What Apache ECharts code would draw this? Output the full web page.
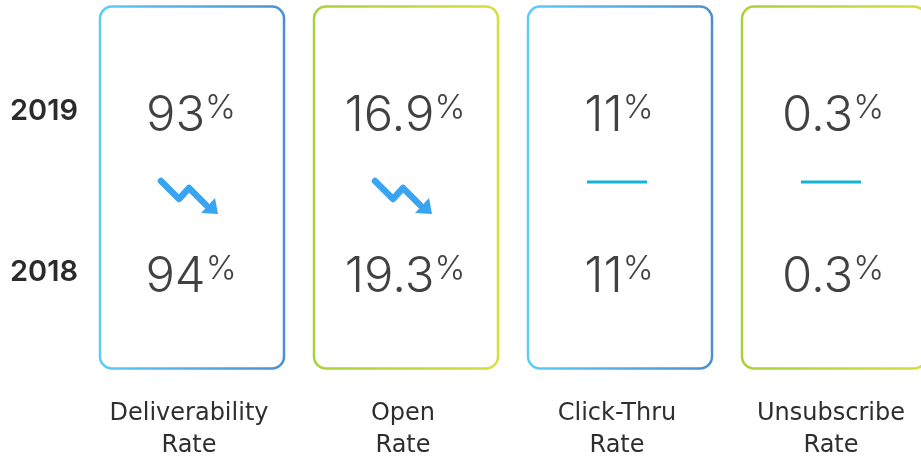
<!DOCTYPE html>
<html>
<head>
<meta charset="utf-8">
<script src="https://cdn.jsdelivr.net/npm/echarts@6/dist/echarts.min.js"></script>
<style>
  html, body { margin: 0; padding: 0; background: #fff; }
  #chart { width: 921px; height: 462px; }
</style>
</head>
<body>
<div id="chart"></div>
<script>
// metrics and yearly values
const metrics = ['Deliverability\nRate', 'Open\nRate', 'Click-Thru\nRate', 'Unsubscribe\nRate'];
const years = ['2018', '2019'];
const values2019 = [93, 16.9, 11, 0.3];
const values2018 = [94, 19.3, 11, 0.3];

const blueGrad = ['#5dcdf7', '#4a8fd0'];
const greenGrad = ['#a8d03c', '#d6df3c'];

const chart = echarts.init(document.getElementById('chart'));

// one point per metric/year, value shown as label
const valuePoints = [];
metrics.forEach(function (m, i) {
  valuePoints.push([i, 1, values2019[i]]);
  valuePoints.push([i, 0, values2018[i]]);
});

// change marker: arrow down / up or flat dash
const changes = metrics.map(function (m, i) {
  return [i, values2019[i] - values2018[i]];
});

function boxItem(params, api) {
  const i = api.value(0);
  const top = api.coord([i, 1]);
  const bot = api.coord([i, 0]);
  const c = i % 2 === 0 ? blueGrad : greenGrad;
  const y0 = top[1] - 105;
  const y1 = bot[1] + 96;
  return {
    type: 'rect',
    shape: { x: top[0] - 89, y: y0, width: 184, height: y1 - y0, r: 12 },
    style: {
      fill: 'none',
      lineWidth: 2.5,
      stroke: new echarts.graphic.LinearGradient(0, 0, 1, 0, [
        { offset: 0, color: c[0] },
        { offset: 1, color: c[1] }
      ])
    }
  };
}

function changeItem(params, api) {
  const i = api.value(0);
  const diff = api.value(1);
  const a = api.coord([i, 1]);
  const b = api.coord([i, 0]);
  const cx = a[0];
  const my = (a[1] + b[1]) / 2;
  if (diff === 0) {
    return {
      type: 'line',
      shape: { x1: cx - 30, y1: my - 10, x2: cx + 30, y2: my - 10 },
      style: { stroke: '#14b3d6', lineWidth: 3 }
    };
  }
  const s = diff < 0 ? 1 : -1;
  const p = function (x, y) { return [cx + x, my + s * y]; };
  return {
    type: 'group',
    children: [
      {
        type: 'polyline',
        shape: { points: [p(-28, -11), p(-10, 7), p(0, -4), p(17, 13)] },
        style: { stroke: '#38a4f2', lineWidth: 6.5, lineCap: 'round', lineJoin: 'round', fill: 'none' }
      },
      {
        type: 'polygon',
        shape: { points: [p(29, 22), p(12, 21), p(26, 6)] },
        style: { fill: '#38a4f2' }
      }
    ]
  };
}

const option = {
  backgroundColor: '#fff',
  animation: false,
  grid: { left: 82, width: 856, top: 31, height: 322, outerBoundsMode: 'none', containLabel: false },
  xAxis: {
    type: 'category',
    data: metrics,
    axisLine: { show: false },
    axisTick: { show: false },
    axisLabel: {
      interval: 0,
      hideOverlap: false,
      margin: 45,
      fontFamily: 'DejaVu Sans',
      fontSize: 24,
      color: '#2e2e2e',
      lineHeight: 32
    }
  },
  yAxis: {
    type: 'category',
    data: years,
    axisLine: { show: false },
    axisTick: { show: false },
    splitLine: { show: false },
    axisLabel: {
      align: 'left',
      margin: 72,
      fontFamily: 'Inter',
      fontSize: 29,
      fontWeight: 600,
      color: '#2b2b2b'
    }
  },
  series: [
    {
      type: 'custom',
      clip: false,
      silent: true,
      renderItem: boxItem,
      data: metrics.map(function (m, i) { return [i, 1]; }),
      z: 1
    },
    {
      type: 'custom',
      clip: false,
      silent: true,
      renderItem: changeItem,
      data: changes,
      z: 2
    },
    {
      type: 'scatter',
      symbolSize: 0,
      silent: true,
      data: valuePoints,
      z: 3,
      label: {
        show: true,
        position: 'inside',
        offset: [2, 5],
        formatter: function (p) {
          return '{v|' + p.value[2] + '}{p|%}';
        },
        rich: {
          v: { fontFamily: 'Inter', fontWeight: 300, fontSize: 49, color: '#111', lineHeight: 50 },
          p: { fontFamily: 'Inter', fontWeight: 300, fontSize: 33, color: '#111', lineHeight: 50, padding: [0, 0, 17, 0] }
        }
      }
    }
  ]
};

chart.setOption(option);
</script>
</body>
</html>
